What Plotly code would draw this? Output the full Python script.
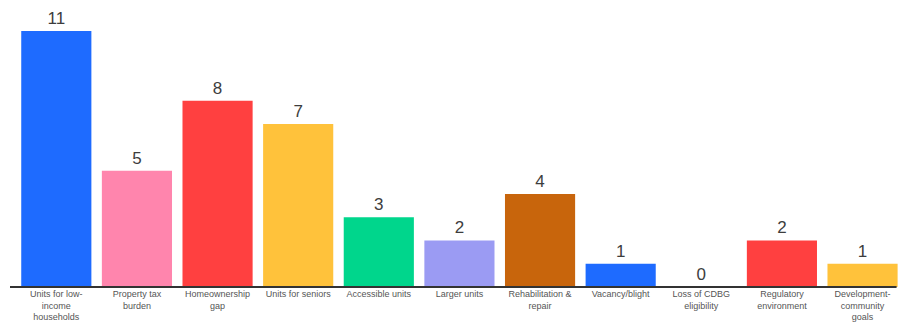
import plotly.graph_objects as go

categories = ["Units for low-<br>income<br>households", "Property tax<br>burden", "Homeownership<br>gap",
              "Units for seniors", "Accessible units", "Larger units", "Rehabilitation &<br>repair",
              "Vacancy/blight", "Loss of CDBG<br>eligibility", "Regulatory<br>environment",
              "Development-<br>community<br>goals"]
values = [11, 5, 8, 7, 3, 2, 4, 1, 0, 2, 1]
colors = ["#1E6BFF", "#FF85AD", "#FF4040", "#FFC23B", "#00D68C", "#9B9BF3", "#C8650C",
          "#1E6BFF", "#1E6BFF", "#FF4040", "#FFC23B"]

fig = go.Figure(go.Bar(
    x=list(range(len(categories))), y=values, marker_color=colors, marker_line_width=0,
    text=[str(v) for v in values], textposition="outside", cliponaxis=False,
    textfont=dict(size=17, color="#3d3d3d", family="Liberation Sans"),
))
fig.update_layout(
    width=901, height=322, margin=dict(l=16, r=0, t=31, b=35),
    plot_bgcolor="white", paper_bgcolor="white", bargap=0.13, showlegend=False,
)
fig.update_xaxes(tickmode="array", tickvals=list(range(len(categories))), ticktext=categories,
                 tickfont=dict(size=9, color="#555555", family="Liberation Sans"),
                 showline=False, showgrid=False, ticks="", range=[-0.5, 10.477])
fig.update_yaxes(range=[0, 11], visible=False)
fig.add_shape(type="line", xref="paper", yref="paper", x0=-6/885, x1=0.995, y0=0, y1=0,
              line=dict(color="#333333", width=2))
fig.write_html("out.html")
